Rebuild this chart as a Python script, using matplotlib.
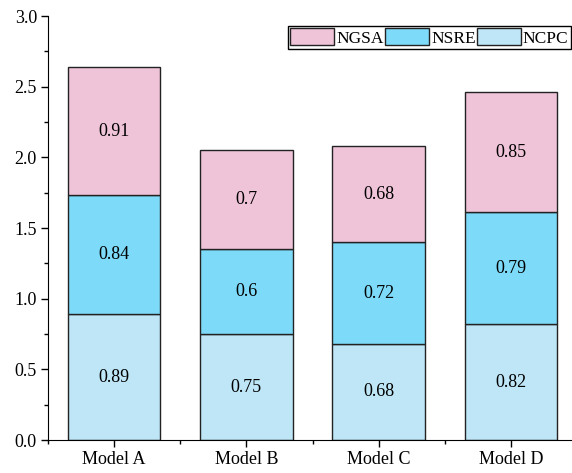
import matplotlib.pyplot as plt
import numpy as np

plt.rcParams['font.family'] = ['Liberation Serif', 'DejaVu Serif']
plt.rcParams['font.size'] = 13

models = ['Model A', 'Model B', 'Model C', 'Model D']
ncpc = [0.89, 0.75, 0.68, 0.82]
nsre = [0.84, 0.6, 0.72, 0.79]
ngsa = [0.91, 0.7, 0.68, 0.85]

fig = plt.figure(figsize=(5.72, 4.73), dpi=100)
ax = fig.add_axes([48 / 572, 33 / 473, 529 / 572, 424 / 473])

x = np.arange(1, len(models) + 1)
w = 0.7
ncpc = np.array(ncpc)
nsre = np.array(nsre)
ngsa = np.array(ngsa)

b1 = ax.bar(x, ncpc, w, color='#BEE6F6', edgecolor='#222222', linewidth=1, label='NCPC')
b2 = ax.bar(x, nsre, w, bottom=ncpc, color='#7DDAF8', edgecolor='#222222', linewidth=1, label='NSRE')
b3 = ax.bar(x, ngsa, w, bottom=ncpc + nsre, color='#EFC4D8', edgecolor='#222222', linewidth=1, label='NGSA')

# value labels in the middle of each segment
for vals, base in [(ncpc, np.zeros(4)), (nsre, ncpc), (ngsa, ncpc + nsre)]:
    for i, v in enumerate(vals):
        ax.text(x[i], base[i] + v / 2, f'{v:g}', ha='center', va='center', fontsize=13)

ax.set_xlim(0.5, 4.5)
ax.set_ylim(0, 3.0)
ax.set_xticks(x)
ax.set_xticklabels(models)
ax.set_xticks(np.arange(0.5, 4.6, 1.0), minor=True)
ax.set_yticks(np.arange(0, 3.01, 0.5))
ax.set_yticks(np.arange(0, 3.01, 0.25), minor=True)
ax.yaxis.set_major_formatter(plt.FormatStrFormatter('%.1f'))

ax.spines['top'].set_visible(False)
ax.spines['right'].set_visible(False)
ax.tick_params(which='major', direction='out', length=5, width=1, pad=3)
ax.tick_params(which='minor', direction='out', length=3, width=1)

leg = ax.legend(handles=[b3, b2, b1], labels=['NGSA', 'NSRE', 'NCPC'],
                loc='upper left', bbox_to_anchor=(288 / 572, 1 - 26 / 473),
                bbox_transform=fig.transFigure, ncol=3, fancybox=False,
                edgecolor='black', framealpha=1, fontsize=12.5,
                handlelength=2.55, handleheight=1.15,
                handletextpad=0.12, columnspacing=0.05, borderpad=0.12, borderaxespad=0)
leg.get_frame().set_linewidth(1)

plt.savefig('out.png', dpi=100)
